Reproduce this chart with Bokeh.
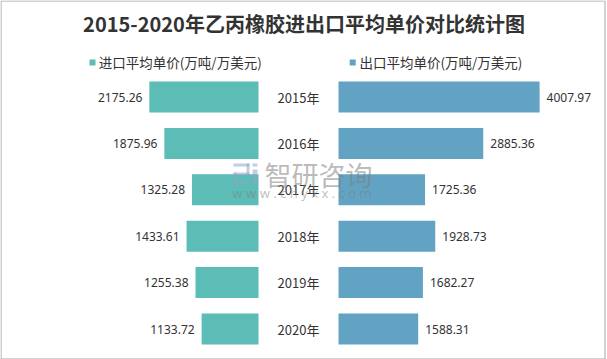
from bokeh.plotting import figure
from bokeh.models import Range1d, Label
from bokeh.core.properties import value
from bokeh.embed import file_html
from bokeh.resources import INLINE

# ---------------- data ----------------
years = [2015, 2016, 2017, 2018, 2019, 2020]
year_labels = ["2015年", "2016年", "2017年", "2018年", "2019年", "2020年"]
import_price = [2175.26, 1875.96, 1325.28, 1433.61, 1255.38, 1133.72]
export_price = [4007.97, 2885.36, 1725.36, 1928.73, 1682.27, 1588.31]
title_text = "2015-2020年乙丙橡胶进出口平均单价对比统计图"
import_name = "进口平均单价(万吨/万美元)"
export_name = "出口平均单价(万吨/万美元)"
wm_name = "智研咨询"
wm_site = "w w w . c h y x x . c o m"

# ---------------- layout constants ----------------
W, H = 607, 359
OFF = 0            # figure px = reference px - OFF
UPX = 19.93        # value units per pixel
YPX = 46.4         # pixels per year
CX = 298 - OFF     # centre line (px)
GAP = 40 * UPX     # half of central gap, in value units
BAR_H = 31 / YPX

TEAL = "#5CBCB6"
BLUE = "#62A3C3"
TXT = "#333333"
CJK = "Noto Sans CJK SC"

x0 = -CX * UPX
x1 = (W - CX) * UPX
ytop = years[0] - (96.5 - OFF) / YPX
ybot = ytop + H / YPX


def X(px):
    return x0 + (px - OFF) * UPX


def Y(py):
    return ytop + (py - OFF) / YPX


p = figure(width=W, height=H, x_range=Range1d(x0, x1), y_range=Range1d(ybot, ytop),
           output_backend="svg", toolbar_location=None, min_border=0,
           x_axis_location=None, y_axis_location=None)
p.grid.visible = False
p.outline_line_color = None
p.background_fill_color = "white"
p.border_fill_color = "white"

# bars
p.hbar(y=years, left=[-(GAP + v) for v in import_price], right=-GAP,
       height=BAR_H, fill_color=TEAL, line_color=None)
p.hbar(y=years, left=GAP, right=[GAP + v for v in export_price],
       height=BAR_H, fill_color=BLUE, line_color=None)

# year labels
p.text(x=0, y=years, text=year_labels, text_align="center", text_baseline="middle",
       text_font=value(CJK), text_font_size=value("13px"), text_color=TXT)

# value labels
p.text(x=[-(GAP + v) for v in import_price], y=years,
       text=["%.2f" % v for v in import_price], x_offset=-7,
       text_align="right", text_baseline="middle",
       text_font=value("Noto Sans"), text_font_size=value("12px"), text_color=TXT)
p.text(x=[GAP + v for v in export_price], y=years,
       text=["%.2f" % v for v in export_price], x_offset=7,
       text_align="left", text_baseline="middle",
       text_font=value("Noto Sans"), text_font_size=value("12px"), text_color=TXT)

# legend
p.rect(x=[X(92), X(352.2)], y=[Y(62), Y(62)], width=6 * UPX, height=6 / YPX,
       fill_color=[TEAL, BLUE], line_color=None)
for lx, txt in [(98.3, import_name), (359, export_name)]:
    p.add_layout(Label(x=X(lx), y=Y(61.5), text=txt, text_align="left",
                       text_baseline="middle", text_font=CJK,
                       text_font_size="13.5px", text_color=TXT))

# title
p.add_layout(Label(x=X(303.5), y=Y(23), text=title_text, text_align="center",
                   text_baseline="middle", text_font=CJK, text_font_style="bold",
                   text_font_size="20px", text_color=TXT))

# watermark logo
lg_l = [233, 246, 233, 233, 233, 252, 252]
lg_r = [249, 249, 249, 236, 249, 257, 257]
lg_t = [163, 163, 172, 172, 181, 163, 169]
lg_b = [166, 175, 175, 184, 184, 166, 184]
p.quad(left=[X(v) for v in lg_l], right=[X(v) for v in lg_r],
       top=[Y(v) for v in lg_t], bottom=[Y(v) for v in lg_b],
       fill_color="#8FA6C8", fill_alpha=0.55, line_color=None)
p.add_layout(Label(x=X(264), y=Y(173.5), text=wm_name, text_align="left",
                   text_baseline="middle", text_font=CJK, text_font_size="27px",
                   text_color="#7F7F7F", text_alpha=0.55))
p.add_layout(Label(x=X(232), y=Y(192.7), text=wm_site, text_align="left",
                   text_baseline="middle", text_font="Noto Sans", text_font_size="13px",
                   text_color="#7F7F7F", text_alpha=0.5))

# chart border
p.quad(left=X(0.5), right=X(604.5), top=Y(0.5), bottom=Y(358.5),
       fill_alpha=0, line_color="#A6A6A6", line_width=1)

open("out.html", "w").write(file_html(p, INLINE))
